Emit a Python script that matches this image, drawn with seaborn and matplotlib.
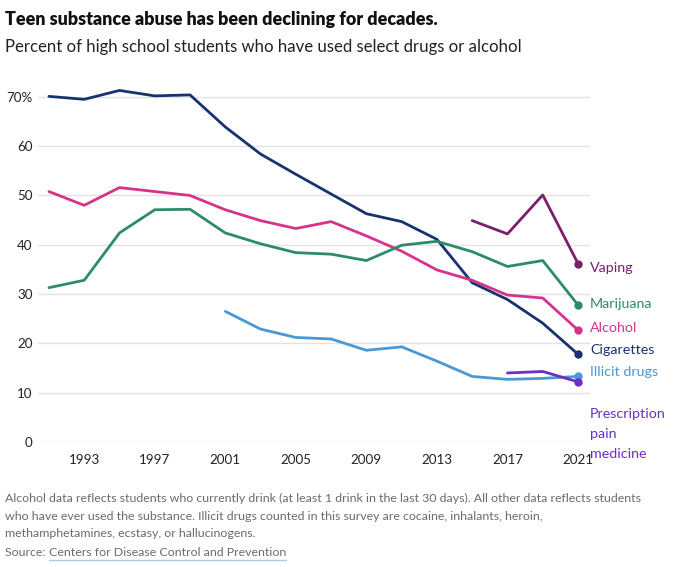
import matplotlib
matplotlib.use("Agg")
import matplotlib.pyplot as plt
import seaborn as sns
import pandas as pd
import numpy as np

years = [1991, 1993, 1995, 1997, 1999, 2001, 2003, 2005, 2007, 2009, 2011, 2013, 2015, 2017, 2019, 2021]
cigarettes = [70.1, 69.5, 71.3, 70.2, 70.4, 63.9, 58.4, 54.3, 50.3, 46.3, 44.7, 41.1, 32.3, 28.9, 24.1, 17.8]
alcohol = [50.8, 48.0, 51.6, 50.8, 50.0, 47.1, 44.9, 43.3, 44.7, 41.8, 38.7, 34.9, 32.8, 29.8, 29.2, 22.7]
marijuana = [31.3, 32.8, 42.4, 47.1, 47.2, 42.4, 40.2, 38.4, 38.1, 36.8, 39.9, 40.7, 38.6, 35.6, 36.8, 27.8]
vaping_years = [2015, 2017, 2019, 2021]
vaping = [44.9, 42.2, 50.1, 36.2]
illicit_years = [2001, 2003, 2005, 2007, 2009, 2011, 2013, 2015, 2017, 2019, 2021]
illicit = [26.5, 22.9, 21.2, 20.9, 18.6, 19.3, 16.4, 13.3, 12.7, 12.9, 13.3]
rx_years = [2017, 2019, 2021]
rx = [14.0, 14.3, 12.2]

series_names = ["Cigarettes", "Alcohol", "Marijuana", "Vaping", "Illicit drugs", "Prescription pain medicine"]
label_texts = ["Cigarettes", "Alcohol", "Marijuana", "Vaping", "Illicit drugs", "Prescription\npain\nmedicine"]
colors = ["#17336f", "#d6338a", "#2e8b6a", "#7b1f6a", "#4a98d4", "#6a2fc4"]
x_ticks = [1993, 1997, 2001, 2005, 2009, 2013, 2017, 2021]
y_ticks = [0, 10, 20, 30, 40, 50, 60, 70]
y_ticklabels = ["0", "10", "20", "30", "40", "50", "60", "70%"]

frames = []
for name, xs, ys in [("Cigarettes", years, cigarettes), ("Alcohol", years, alcohol),
                     ("Marijuana", years, marijuana), ("Vaping", vaping_years, vaping),
                     ("Illicit drugs", illicit_years, illicit),
                     ("Prescription pain medicine", rx_years, rx)]:
    frames.append(pd.DataFrame({"year": xs, "value": ys, "series": name}))
df = pd.concat(frames, ignore_index=True)

sns.set_theme(style="white")
plt.rcParams["font.family"] = ["Lato", "DejaVu Sans"]

W, H = 680, 567
fig = plt.figure(figsize=(W / 100, H / 100), dpi=100)
ax_left, ax_right = 38, 590
y0_px, ytop_px = 442, 87
ax = fig.add_axes([ax_left / W, 1 - y0_px / H, (ax_right - ax_left) / W, (y0_px - ytop_px) / H])

palette = dict(zip(series_names, colors))
sns.lineplot(data=df, x="year", y="value", hue="series", palette=palette,
             hue_order=series_names, linewidth=2.0, legend=False, ax=ax,
             estimator=None, sort=False)

label_y = {"Vaping": 268, "Marijuana": 304, "Alcohol": 328, "Cigarettes": 350,
           "Illicit drugs": 372}
for name, txt, col in zip(series_names, label_texts, colors):
    sub = df[df.series == name]
    last = sub.iloc[-1]
    ax.scatter([last.year], [last.value], s=36, color=col, zorder=5, clip_on=False, linewidths=0)
    if name in label_y:
        fig.text(590 / W, 1 - label_y[name] / H, txt, color=col, fontsize=10.3,
                 va="center", ha="left")
    else:
        fig.text(590 / W, 1 - 408 / H, txt, color=col, fontsize=10.3,
                 va="top", ha="left", linespacing=1.8)

ax.set_xlim(1990.38, 2021.68)
ax.set_ylim(0, 72)
ax.set_xticks(x_ticks)
ax.set_xticklabels([str(t) for t in x_ticks])
ax.set_yticks(y_ticks)
ax.set_yticklabels(y_ticklabels)
ax.grid(axis="y", color="#e3e3e3", linewidth=1)
ax.set_axisbelow(True)
for s in ax.spines.values():
    s.set_visible(False)
ax.tick_params(axis="both", length=0, labelsize=9.6, colors="#222222")
ax.tick_params(axis="y", pad=4)
ax.tick_params(axis="x", pad=9)
ax.set_xlabel("")
ax.set_ylabel("")

fig.text(5 / W, 1 - 20 / H, "Teen substance abuse has been declining for decades.",
         fontsize=12.9, fontweight="heavy", color="#111111", va="center", ha="left",
         family=["Liberation Sans Narrow", "Lato"])
fig.text(5 / W, 1 - 47 / H, "Percent of high school students who have used select drugs or alcohol",
         fontsize=12.1, color="#222222", va="center", ha="left")

foot = ("Alcohol data reflects students who currently drink (at least 1 drink in the last 30 days). All other data reflects students\n"
        "who have ever used the substance. Illicit drugs counted in this survey are cocaine, inhalants, heroin,\n"
        "methamphetamines, ecstasy, or hallucinogens.")
fig.text(5 / W, 1 - 493 / H, foot, fontsize=8.9, color="#6b6b6b", va="top", ha="left", linespacing=1.72)
src = fig.text(5 / W, 1 - 553 / H, "Source: ", fontsize=8.9, color="#6b6b6b", va="center", ha="left")
fig.canvas.draw()
bb = src.get_window_extent()
link = fig.text(bb.x1 / W, 1 - 553 / H, "Centers for Disease Control and Prevention",
                fontsize=8.9, color="#6b6b6b", va="center", ha="left")
fig.canvas.draw()
lb = link.get_window_extent()
fig.add_artist(plt.Line2D([lb.x0 / W, lb.x1 / W], [(lb.y0 - 1) / H, (lb.y0 - 1) / H],
                          color="#a8cce8", linewidth=1.0))

fig.savefig("out.png", dpi=100)
